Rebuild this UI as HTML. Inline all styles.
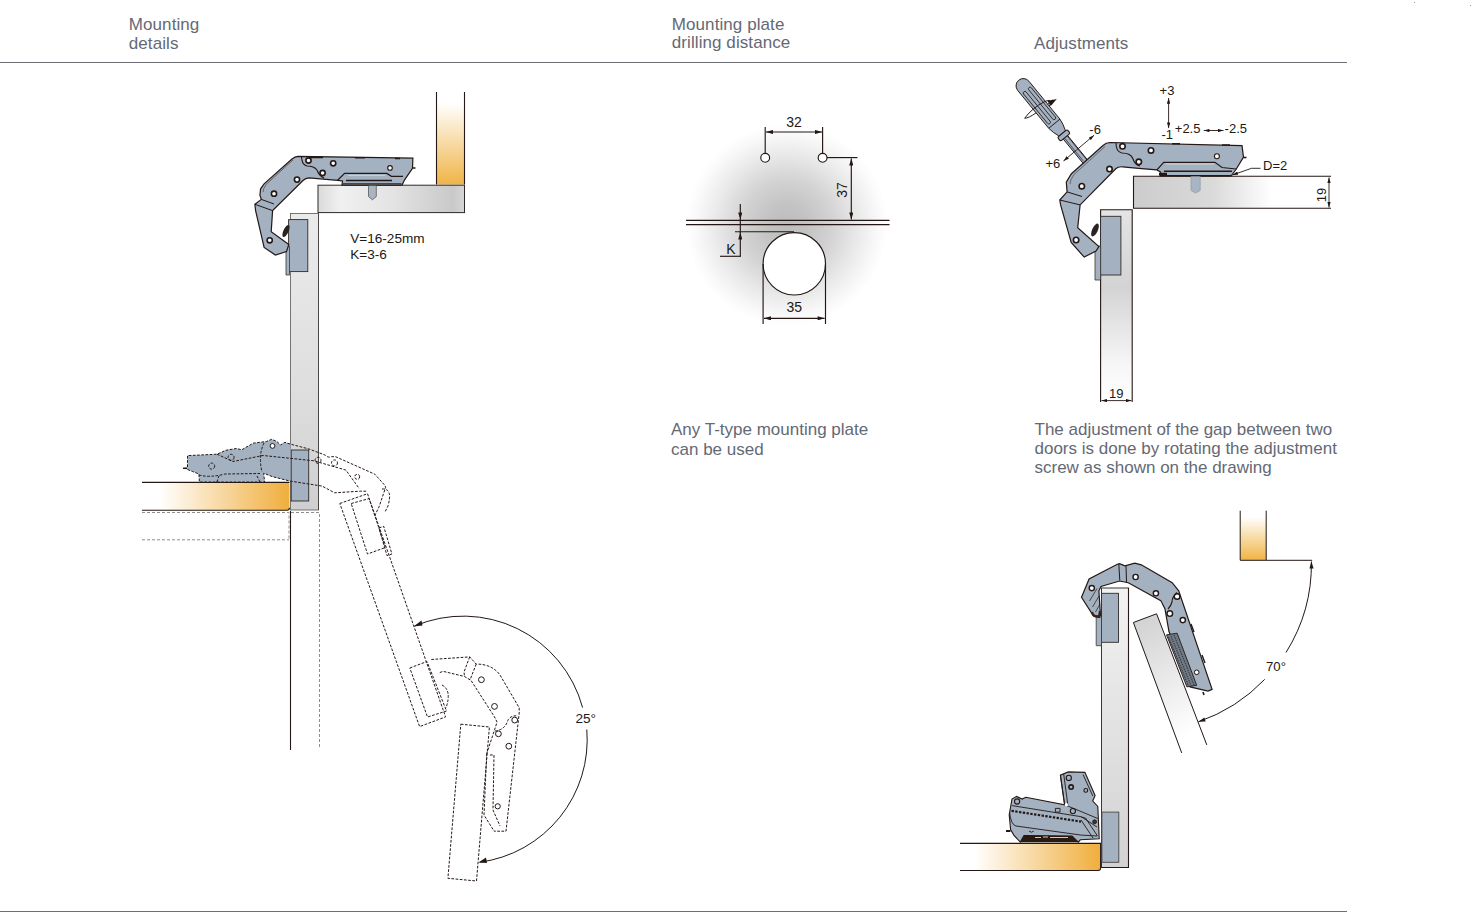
<!DOCTYPE html>
<html><head><meta charset="utf-8">
<style>
html,body{margin:0;padding:0;background:#fff;}
body{width:1475px;height:921px;position:relative;overflow:hidden;font-family:"Liberation Sans",sans-serif;}
svg{position:absolute;left:0;top:0;}
.h{font-size:17px;fill:#646975;letter-spacing:0.08px;}
.b{font-size:17px;fill:#646975;}
</style></head><body>
<svg width="1475" height="921" viewBox="0 0 1475 921" font-family="Liberation Sans, sans-serif">
<defs>
  <marker id="ah" viewBox="0 0 10 6" refX="10" refY="3" markerWidth="8" markerHeight="4.2" markerUnits="userSpaceOnUse" orient="auto-start-reverse"><path d="M0 0 L10 3 L0 6 Z" fill="#231815"/></marker>
  <marker id="ah2" viewBox="0 0 10 6" refX="10" refY="3" markerWidth="6" markerHeight="3.4" markerUnits="userSpaceOnUse" orient="auto-start-reverse"><path d="M0 0 L10 3 L0 6 Z" fill="#231815"/></marker>
  <linearGradient id="orV" x1="0" y1="0" x2="0" y2="1">
    <stop offset="0" stop-color="#fff"/><stop offset="0.12" stop-color="#fff"/>
    <stop offset="1" stop-color="#f0b446"/>
  </linearGradient>
  <linearGradient id="orH" x1="0" y1="0" x2="1" y2="0">
    <stop offset="0" stop-color="#fff"/><stop offset="0.12" stop-color="#fff"/>
    <stop offset="1" stop-color="#f0ae3c"/>
  </linearGradient>
  <linearGradient id="orH2" x1="0" y1="0" x2="1" y2="0">
    <stop offset="0" stop-color="#fff"/><stop offset="0.1" stop-color="#fff"/>
    <stop offset="1" stop-color="#f0ae3c"/>
  </linearGradient>
  <linearGradient id="grH1" x1="0" y1="0" x2="1" y2="0">
    <stop offset="0" stop-color="#dadada"/><stop offset="0.15" stop-color="#f0f0f0"/>
    <stop offset="0.5" stop-color="#e4e4e4"/><stop offset="0.92" stop-color="#c9c9c9"/><stop offset="1" stop-color="#d6d6d6"/>
  </linearGradient>
  <linearGradient id="grH2" x1="0" y1="0" x2="1" y2="0">
    <stop offset="0" stop-color="#cccccc"/><stop offset="0.4" stop-color="#dadada"/>
    <stop offset="0.7" stop-color="#fff"/><stop offset="1" stop-color="#fff"/>
  </linearGradient>
  <linearGradient id="grV1" x1="0" y1="0" x2="0" y2="1">
    <stop offset="0" stop-color="#ebebeb"/><stop offset="0.6" stop-color="#dedede"/><stop offset="1" stop-color="#cfcfcf"/>
  </linearGradient>
  <linearGradient id="grV2" x1="0" y1="0" x2="0" y2="1">
    <stop offset="0" stop-color="#e4e4e4"/><stop offset="0.4" stop-color="#d3d3d3"/><stop offset="0.8" stop-color="#f6f6f6"/><stop offset="1" stop-color="#fff"/>
  </linearGradient>
  <linearGradient id="grV3" x1="0" y1="0" x2="0" y2="1">
    <stop offset="0" stop-color="#f2f2f2"/><stop offset="0.5" stop-color="#e2e2e2"/><stop offset="1" stop-color="#d2d2d2"/>
  </linearGradient>
  <linearGradient id="grD" x1="0" y1="0" x2="0.3" y2="1">
    <stop offset="0" stop-color="#cfcfcf"/><stop offset="1" stop-color="#fff"/>
  </linearGradient>
  <radialGradient id="blob" cx="0.5" cy="0.5" r="0.5">
    <stop offset="0" stop-color="#bdbdbd"/><stop offset="0.2" stop-color="#c3c3c3"/>
    <stop offset="0.45" stop-color="#d3d3d3"/><stop offset="0.7" stop-color="#e9e9e9"/><stop offset="0.9" stop-color="#f9f9f9"/><stop offset="1" stop-color="#fff"/>
  </radialGradient>
</defs>

<!-- header -->
<text class="h" x="128.8" y="30">Mounting</text>
<text class="h" x="128.8" y="48.6">details</text>
<text class="h" x="671.8" y="29.9">Mounting plate</text>
<text class="h" x="671.8" y="48.4">drilling distance</text>
<text class="h" x="1034" y="49">Adjustments</text>
<rect x="0" y="62" width="1347" height="1" fill="#6d6f74"/>
<rect x="0" y="911" width="1347" height="1" fill="#6d6f74"/>
<rect x="1414" y="2" width="1" height="1" fill="#999"/><rect x="1470" y="5" width="1" height="1" fill="#999"/>

<!-- body text -->
<text class="b" x="671" y="434.6">Any T-type mounting plate</text>
<text class="b" x="671" y="454.5">can be used</text>
<text class="b" x="1034.5" y="434.6">The adjustment of the gap between two</text>
<text class="b" x="1034.5" y="453.8">doors is done by rotating the adjustment</text>
<text class="b" x="1034.5" y="473.4">screw as shown on the drawing</text>
<!-- ================= LEFT DRAWING ================= -->
<g id="left">
  <!-- top orange panel -->
  <rect x="436.5" y="92" width="28" height="92.5" fill="url(#orV)"/>
  <path d="M436.5 92V184.5M464.5 92V184.5" stroke="#231815" stroke-width="1.1" fill="none"/>
  <!-- carcass horizontal panel -->
  <rect x="318" y="185.2" width="146.5" height="27.4" fill="url(#grH1)" stroke="#2e2a28" stroke-width="1"/>
  <!-- door panel -->
  <rect x="290.5" y="213.5" width="28" height="296.5" fill="url(#grV1)" stroke="#6a6663" stroke-width="0.9"/>
  <path d="M318.5 213.5V510" stroke="#4a4644" stroke-width="1"/>
  <!-- door mounting plate -->
  <rect x="288.6" y="219.6" width="19.2" height="52" fill="#a3b1c1" stroke="#2e2a28" stroke-width="0.9"/>
  <path d="M286 246.5h3.5v28.5h-3.5z" fill="#a3b1c1" stroke="#3a3634" stroke-width="0.8"/>
  <ellipse cx="286" cy="231" rx="2.6" ry="6.5" transform="rotate(25 286 231)" fill="#2a2420"/>
  <!-- hinge arm -->
  <path d="M298 156.3 L412.9 158.2 L412.5 168.4 L404.6 179.8 L402 185.1 L342 185.1 L342.5 181 L337.6 180.3 L309 177.8 Q305.5 178 303 180.5 L272.6 210.6 L271.2 231.8 L288.8 244.5 L286.5 251.6 L275.4 255.1 L264.1 247.4 L255.6 210.7 L254.9 204.3 L261.3 199.4 L259.9 195.1 L260.6 188.8 L264.1 183.9 L292 159 Q295 156.5 298 156.3 Z" fill="#a3b1c1" stroke="#231815" stroke-width="1.2"/>
  <path d="M293 160 L266 184.5 Q263 189 263 192" stroke="#3a3634" stroke-width="0.6" fill="none"/>
  <path d="M254.9 204.3 L272.6 210.6 M261.3 199.4 L274 204" stroke="#231815" stroke-width="1" fill="none"/>
  <path d="M301.5 157 Q302 165 307 166 Q314 166 317 170 Q319 176 324 178" stroke="#231815" stroke-width="1.1" fill="none"/>
  <path d="M337.6 180.3 L344.6 173.4 H386.9 L391.4 176.3 H403" stroke="#231815" stroke-width="1.2" fill="none"/>
  <path d="M346 180.4 H392" stroke="#231815" stroke-width="1.5"/>
  <path d="M343 183.8 H401.5" stroke="#231815" stroke-width="1"/>
  <path d="M348 175.5 H385" stroke="#fff" stroke-width="0.8" opacity="0.5"/>
  <path d="M309 157.5h14M355 157.8h10M395 158.5h5" stroke="#231815" stroke-width="1.6"/>
  <path d="M413 168 h2.5" stroke="#231815" stroke-width="1.5"/>
  <!-- pin -->
  <path d="M368.5 185.5 V196.5 L372.4 199.8 L376.3 196.5 V185.5 Z" fill="#a9b5c3" stroke="#4a4644" stroke-width="0.7"/>
  <!-- holes -->
  <g fill="#fff" stroke="#231815" stroke-width="1.6">
    <circle cx="308.5" cy="160.5" r="2.6"/><circle cx="333.2" cy="163.3" r="2.6"/>
    <circle cx="322.6" cy="173" r="2.6"/>
    <circle cx="297" cy="179.6" r="2.6"/><circle cx="274" cy="193.7" r="2.6"/>
    <circle cx="269.7" cy="240.3" r="2.6"/>
  </g>
  <circle cx="390" cy="167.9" r="2.3" fill="#fff" stroke="#231815" stroke-width="1.1"/>
  <text x="350.2" y="243.3" style="font-size:13.6px;fill:#231815">V=16-25mm</text>
  <text x="350.2" y="259" style="font-size:13.6px;fill:#231815">K=3-6</text>

  <!-- bottom orange panel -->
  <path d="M142 482.4 H287.5 Q289.5 482.4 289.5 484.5 V507.8 Q289.5 510.2 287 510.2 H142 Z" fill="url(#orH)"/>
  <path d="M142 482.4 H289.5 M142 510.2 H287 Q289.5 510.2 289.5 507.8" stroke="#231815" stroke-width="1.1" fill="none"/>
  <!-- mounting plate on door (bottom) -->
  <rect x="291.2" y="450" width="17.5" height="51" fill="#a3b1c1" stroke="#2e2a28" stroke-width="0.9"/>
  <!-- base hinge body -->
  <path d="M183.1 468.3 L187.5 467 L187.5 455.6 L217 454.2 L225.8 450.3 L236.4 448.5 L241.7 449.8 L253.2 443.2 L266.4 441.5 L271.7 439.3 L276.9 441.5 L280.5 445 L284.9 442.3 L290.6 444.1 L290.6 481.2 L272.5 476.7 L263.7 473.2 L264.6 482 L199.4 482 L198.9 474 L192.3 471.4 L187.5 469.5 Z" fill="#a3b1c1"/>
  <g stroke="#231815" stroke-width="1" fill="none" stroke-dasharray="2.7 1.5">
    <path d="M187.5 467 L187.5 455.6 L217 454.2 L225.8 450.3 L236.4 448.5 L241.7 449.8 L253.2 443.2 L266.4 441.5 L271.7 439.3 L276.9 441.5 L280.5 445 L284.9 442.3 L290.2 444.1 L308.7 448.9 L325.2 455.1 Q328 458 331.4 456.7 L335.6 456.7 L374.8 474.2 L385.1 485.6 L385.6 487.6 L378.9 507.2 L374.8 515.5"/>
    <path d="M217 454.2 L233 461.5 L263 455.5 L313.9 460.8 L345.9 470.1 L359.3 488.7"/>
    <path d="M187.5 469.5 L192.3 471.4 L198.9 474 L199.4 482 L264.6 482 L263.7 473.2 L272.5 476.7 L290.2 481.1 L322.2 486.1 L334.5 492.8 L360.3 491.2 L366.5 491.2"/>
    <path d="M199 475 Q210 478 225 474 L260 473.5 M216.8 482 L219 476 M260 482 L257 476"/>
    <path d="M264 443 Q258 455 262 472"/>
    <circle cx="231.1" cy="457.3" r="3"/><circle cx="211.7" cy="466.1" r="3"/>
    <circle cx="318" cy="460.3" r="3"/><circle cx="334.5" cy="462.9" r="3"/><circle cx="357.2" cy="476.8" r="2.5"/>
  </g>
  <circle cx="272.5" cy="445.9" r="2.4" fill="#fff" stroke="#231815" stroke-width="1"/>
  <path d="M183 468.3 h4" stroke="#231815" stroke-width="1.5"/>

  <!-- cabinet dashed lines below -->
  <g stroke="#8e8e8e" stroke-width="1" fill="none" stroke-dasharray="3 2">
    <path d="M142 512.5 H289 V540 M142 539.8 H289 M291 512.5 H319.5 V749"/>
  </g>
  <path d="M290.5 511 V750" stroke="#231815" stroke-width="1.1"/>

  <!-- open door dashed -->
  <g stroke="#231815" stroke-width="1" fill="none" stroke-dasharray="2.7 1.5">
    <path d="M339.8 503.5 L367.5 493.7 L445.6 716.9 L419.6 726.6 Z"/>
    <path d="M351.2 503.5 L369.1 498.6 L385.4 547.5 L367.5 554 Z"/>
    <path d="M378.9 528 L383.7 526.3 L391.9 554 L387 555.6 Z"/>
    <path d="M409.8 668 L427 661.5 L446.5 711 L427.5 717 Z"/>
    <path d="M431.3 659.5 L469.7 656.9 L476.2 664.1 Q491.9 664 500 675 L519.2 707.8 L519.2 713 L506 831.2 L494 831.2"/>
    <path d="M439.8 672.6 L443 671.3 L464.5 676.5 L471 680.4 L494.5 716.9 L497.1 722.1 L486.7 753.7"/>
    <path d="M469.7 656.9 L464 672 L464.5 676.5 M476.2 664.1 L470 680"/>
    <path d="M495 731 Q505 730 508 720 Q511 715 518 716"/>
    <path d="M460.8 724.2 L489.4 727 L476.5 881 L447.9 878.3 Z"/>
    <path d="M490 755 L494 755 L493 810 L500 826 M486.7 753.7 L484 815 L494 831"/>
    <path d="M382 489 Q393 488 388 506 L385 512"/>
    <path d="M442 685 Q452 690 446 708"/>
  </g>
  <g stroke="#231815" stroke-width="1" fill="none">
    <circle cx="481.4" cy="679.7" r="2.9"/><circle cx="494.5" cy="706.4" r="2.9"/>
    <circle cx="514.7" cy="720.1" r="2.9"/><circle cx="498.4" cy="733.8" r="2.9"/>
    <circle cx="508.8" cy="746.2" r="2.9"/><circle cx="497.7" cy="806.3" r="2.6"/>
  </g>
  <!-- 25 deg arc -->
  <path d="M414.7 626 A123.7 123.7 0 0 1 582.6 707.6 M586.8 729.5 A123.7 123.7 0 0 1 479.8 862.2" stroke="#231815" stroke-width="1" fill="none"/>
  <path d="M413.5 626.5 L421.5 620.5 L422.5 625.5 Z" fill="#231815"/>
  <path d="M478.5 862.5 L486 857.5 L487 863 Z" fill="#231815"/>
  <text x="575.5" y="722.8" style="font-size:13.6px;fill:#231815">25°</text>
</g>

<!-- ================= MIDDLE DRAWING ================= -->
<g id="mid">
  <circle cx="787" cy="225" r="101" fill="url(#blob)"/>
  <g stroke="#231815" stroke-width="1.15" fill="none">
    <circle cx="765.2" cy="157.8" r="4.4" fill="#fff"/>
    <circle cx="822.6" cy="157.8" r="4.4" fill="#fff"/>
    <path d="M765.2 127 V153.4 M822.6 127 V153.4"/>
    <path d="M766 132 H822" marker-start="url(#ah)" marker-end="url(#ah)"/>
    <path d="M827 157.6 H857.5"/>
    <path d="M851.3 158.5 V219.5" marker-start="url(#ah)" marker-end="url(#ah)"/>
    <path d="M686 220.3 H889.5 M686 224.6 H889.5"/>
    <circle cx="794.3" cy="263.8" r="31.2" fill="#fff"/>
    <path d="M735 231.7 H794"/>
    <path d="M740.3 204 V219.5" marker-end="url(#ah)"/>
    <path d="M740.3 256.5 V232.5" marker-end="url(#ah)"/>
    <path d="M740.3 219 V233"/>
    <path d="M720 256.3 H740.8"/>
    <path d="M763.1 264 V324 M825.5 264 V324"/>
    <path d="M764 318.3 H824.6" marker-start="url(#ah)" marker-end="url(#ah)"/>
  </g>
  <g style="font-size:14px;fill:#231815" text-anchor="middle">
    <text x="794" y="126.9">32</text>
    <text x="794.3" y="312.3">35</text>
    <text x="731" y="254">K</text>
    <text transform="translate(847 190) rotate(-90)">37</text>
  </g>
</g>

<!-- ================= RIGHT DRAWINGS ================= -->
<g id="right">
  <!-- carcass -->
  <rect x="1133.5" y="176.3" width="198" height="32" fill="url(#grH2)"/>
  <path d="M1331 176.3 H1133.5 V208.3 H1331" stroke="#231815" stroke-width="1.1" fill="none"/>
  <path d="M1100.6 402 V209.8 H1132.2 V402" fill="url(#grV2)" stroke="#231815" stroke-width="1.1"/>
  <!-- dims 19 -->
  <g stroke="#231815" stroke-width="0.9" fill="none">
    <path d="M1329 177.5 V207.5" marker-start="url(#ah2)" marker-end="url(#ah2)"/>
    <path d="M1101.5 400.6 H1131.5" marker-start="url(#ah2)" marker-end="url(#ah2)"/>
  </g>
  <g style="font-size:13px;fill:#231815" text-anchor="middle">
    <text x="1116.3" y="398">19</text>
    <text transform="translate(1326.4 195) rotate(-90)">19</text>
  </g>
  <!-- door mounting plate -->
  <rect x="1100.6" y="216.3" width="20.3" height="58.7" fill="#a3b1c1" stroke="#2e2a28" stroke-width="0.9"/>
  <path d="M1095 246 h5.6 v34 h-5.6 z" fill="#a3b1c1" stroke="#3a3634" stroke-width="0.8"/>
  <ellipse cx="1095" cy="230" rx="2.8" ry="7" transform="rotate(25 1095 230)" fill="#2a2420"/>
  <!-- screwdriver -->
  <g transform="translate(1023.3 85.8) rotate(50.7)" stroke="#231815" stroke-width="0.9">
    <path d="M66 -2.8 H104 V2.8 H66 Z" fill="#a3b1c1"/>
    <path d="M56 -2.2 H100 M56 1.2 H96" stroke-width="0.6" fill="none"/>
    <path d="M0 -7.25 H49 Q56 -6.5 60 -4.6 H62.5 V4.6 H60 Q56 6.5 49 7.25 H0 A7.25 7.25 0 0 1 0 -7.25 Z" fill="#a3b1c1"/>
    <path d="M49 -7.25 V7.25" fill="none"/>
    <rect x="61.5" y="-6.3" width="5" height="12.6" rx="1.8" fill="#a3b1c1" stroke-width="1.1"/>
    <rect x="5" y="-5" width="41" height="3.3" rx="1.6" fill="none" stroke-width="0.8"/>
    <rect x="5" y="1.7" width="41" height="3.3" rx="1.6" fill="none" stroke-width="0.8"/>
    <path d="M32 -7.25 A4.5 17 0 0 0 26 19.5 A4.5 17 0 0 0 29 7.25" fill="none" stroke-width="0.9"/>
    <path d="M30 -7.25 L29 -13.5" fill="none" stroke-width="0.9"/>
    <path d="M27 -9 L31.5 -17.5 L33 -8.5 Z" fill="#231815" stroke="none"/>
  </g>
  <path d="M1063.5 161 L1094.1 135.2" stroke="#231815" stroke-width="0.9" fill="none" marker-start="url(#ah2)" marker-end="url(#ah2)"/>
  <!-- hinge arm -->
  <path d="M1110 142.5 L1242 145.7 L1243.5 157.1 L1236 169.5 L1231 176 L1160 176 L1160.5 172 L1156.9 169.9 L1138.7 168.4 L1122.7 166.8 Q1118 166.5 1116 168.5 L1080.1 204.9 L1077.7 227.8 L1098.9 246.5 L1096 251 L1084.2 257.1 L1071.2 242.4 L1060.6 204.9 L1059.8 200 L1067.1 191.9 L1066.3 182.1 L1071.2 174 L1103 145.5 Q1106 142.6 1110 142.5 Z" fill="#a3b1c1" stroke="#231815" stroke-width="1.2"/>
  <path d="M1105 146.5 L1074 174.5 Q1070 180 1070 184" stroke="#3a3634" stroke-width="0.6" fill="none"/>
  <path d="M1059.8 200 L1080.1 204.9 M1067.1 191.9 L1082 196.5" stroke="#231815" stroke-width="1" fill="none"/>
  <path d="M1116 143 Q1116 152 1122 153 Q1131 153 1133 159 Q1135 165 1140 166" stroke="#231815" stroke-width="1.1" fill="none"/>
  <path d="M1156.9 169.9 L1163.7 162.3 H1215 L1222 167.5 L1236 169" stroke="#231815" stroke-width="1.2" fill="none"/>
  <path d="M1166 164 H1214" stroke="#fff" stroke-width="0.8" opacity="0.6"/>
  <path d="M1164 171.3 H1232" stroke="#231815" stroke-width="1.6"/>
  <path d="M1160 175.6 H1231" stroke="#231815" stroke-width="1.1"/>
  <path d="M1159 174 h8" stroke="#231815" stroke-width="2.5"/>
  <path d="M1172 143.8 h8 M1222 144.9 h8" stroke="#231815" stroke-width="1.5"/>
  <path d="M1243.5 157.5 h3" stroke="#231815" stroke-width="1.6"/>
  <path d="M1191 176.5 V190.5 L1195.6 193 L1200.2 190.5 V176.5 Z" fill="#a9b5c3" stroke="#8a949e" stroke-width="0.6"/>
  <g fill="#fff" stroke="#231815" stroke-width="1.6">
    <circle cx="1122.5" cy="146.3" r="2.7"/><circle cx="1151" cy="150.4" r="2.7"/>
    <circle cx="1138.8" cy="161.8" r="2.7"/><circle cx="1109.5" cy="169.1" r="2.7"/>
    <circle cx="1081.8" cy="186.2" r="2.7"/><circle cx="1076.1" cy="240" r="2.7"/>
  </g>
  <circle cx="1216.9" cy="156.3" r="2.5" fill="#fff" stroke="#231815" stroke-width="1.1"/>
  <!-- adj labels -->
  <g style="font-size:13px;fill:#231815">
    <text x="1159.6" y="94.6">+3</text>
    <text x="1161.5" y="138.6">-1</text>
    <text x="1174.8" y="132.5">+2.5</text>
    <text x="1224.6" y="132.5">-2.5</text>
    <text x="1263" y="169.9">D=2</text>
    <text x="1089.3" y="133.9">-6</text>
    <text x="1045.4" y="167.5">+6</text>
  </g>
  <g stroke="#231815" stroke-width="0.9" fill="none">
    <path d="M1168.6 98 V128.1" marker-start="url(#ah2)" marker-end="url(#ah2)"/>
    <path d="M1203.8 130.5 H1223.5" marker-start="url(#ah2)" marker-end="url(#ah2)"/>
    <path d="M1260.5 168.3 H1251.5 L1232.4 175" marker-end="url(#ah2)"/>
  </g>

  <!-- ======== bottom right ======== -->
  <rect x="1240.2" y="510.7" width="26" height="49.5" fill="url(#orV)"/>
  <path d="M1240.2 510.7V560.2M1266.2 510.7V560.2M1240.2 560.3H1312.2" stroke="#231815" stroke-width="1" fill="none"/>
  <path d="M1311.4 561.5 A166.6 166.6 0 0 1 1286 652.5 M1264.7 679.4 A166.6 166.6 0 0 1 1198.4 721.8" stroke="#231815" stroke-width="1" fill="none" marker-start="url(#ah)" marker-end="url(#ah)"/>
  <text x="1266" y="670.6" style="font-size:13.2px;fill:#231815">70°</text>
  <!-- open door -->
  <path d="M1206.8 744.9 L1156.6 613.8 L1133.4 622.5 L1181.7 752.9" fill="url(#grD)" stroke="#231815" stroke-width="1"/>
  <!-- door panel -->
  <rect x="1101.5" y="588" width="27" height="279.5" fill="url(#grV3)" stroke="#3a3634" stroke-width="1"/>
  <path d="M1128.5 588 V867.5 H1101.5" stroke="#231815" stroke-width="1.1" fill="none"/>
  <rect x="1101.5" y="593.3" width="17" height="49" fill="#a3b1c1" stroke="#2e2a28" stroke-width="0.9"/>
  <path d="M1096.2 617.2 h5.3 v28.5 h-5.3 z" fill="#a3b1c1" stroke="#3a3634" stroke-width="0.8"/>
  <!-- open hinge -->
  <path d="M1081.5 597.3 L1089.1 578.9 L1117.3 564.2 L1119.5 563.7 L1124.9 565.9 L1134.8 563.1 L1141.3 564.8 L1172.2 582.7 L1178.7 590.8 L1212.1 689.4 L1208.1 691 L1190.1 686.9 L1169 631.5 L1164.9 608.7 L1160.8 600.6 L1128.3 582.7 L1119.5 581 L1101 586.5 L1098.9 590.8 L1100.5 615.8 L1093.4 615.8 Z" fill="#a3b1c1" stroke="#231815" stroke-width="1.2"/>
  <path d="M1118.8 564 L1119.8 580.5 M1126 566 L1126.5 582" stroke="#231815" stroke-width="1" fill="none"/>
  <path d="M1089.5 601 L1097 588.5 M1092.5 607 L1099 596 M1095.5 612 L1100 604" stroke="#231815" stroke-width="0.7" fill="none"/>
  <path d="M1092 612 Q1093 617 1099 617 L1100 611" stroke="#3a2418" stroke-width="2.2" fill="none"/>
  <path d="M1177 592.5 Q1172 597 1172 602 Q1171 606 1168 609" stroke="#231815" stroke-width="1.1" fill="none"/>
  <path d="M1166.5 634.8 L1177.1 633.2 L1196.7 685.3 L1186.9 686.9 Z" fill="#6f7a86" stroke="#231815" stroke-width="0.9"/>
  <path d="M1168.5 637 L1188.5 686 M1171 636 L1191 685.5 M1174 635 L1194 685" stroke="#2a2622" stroke-width="0.9" stroke-dasharray="1.5 1" fill="none"/>
  <path d="M1203 692 l1 3" stroke="#231815" stroke-width="1.6"/>
  <path d="M1191 624 l3 8 M1202 655 l3 8" stroke="#231815" stroke-width="1.4"/>
  <g fill="#fff" stroke="#231815" stroke-width="1.4">
    <circle cx="1091.8" cy="588.1" r="2.6"/><circle cx="1135.6" cy="577" r="2.6"/>
    <circle cx="1155.9" cy="593.3" r="2.6"/><circle cx="1177.1" cy="596.5" r="2.8"/>
    <circle cx="1169.8" cy="613.6" r="2.8"/><circle cx="1182.8" cy="620.1" r="2.6"/>
  </g>
  <circle cx="1196.7" cy="672.3" r="2.3" fill="#fff" stroke="#231815" stroke-width="1"/>
  <!-- bottom orange -->
  <path d="M960 843.4 H1100.6 V868 Q1100.6 870.5 1098 870.5 H960 Z" fill="url(#orH2)"/>
  <path d="M960 843.4 H1100.6 V868 Q1100.6 870.5 1098 870.5 H960" stroke="#231815" stroke-width="1.1" fill="none"/>
  <rect x="1101.9" y="812.1" width="16.9" height="50.2" fill="#a3b1c1" stroke="#4a4644" stroke-width="0.9"/>
  <!-- base hinge -->
  <path d="M1020.3 842.3 L1024 835 L1068 833.3 L1072 836 L1078.4 842.3 Z" fill="#2a1a10"/>
  <path d="M1010.6 829.6 L1009.2 814.8 L1012 799.1 L1016.6 796.4 L1022.1 799.1 L1025.8 797.3 L1064.6 804.7 L1060.4 775.2 L1068.3 771.9 L1084.9 772.4 L1095.1 795.5 L1092.7 801 L1097.8 806.5 L1099.2 838.8 L1080.3 839.8 L1078.4 842.1 L1072 836 L1024 835.5 L1020.3 842.1 L1013.8 835.1 Z" fill="#a3b1c0" stroke="#231815" stroke-width="1.1"/>
  <path d="M1006 831 h4.5" stroke="#231815" stroke-width="2"/>
  <g stroke="#231815" stroke-width="0.9" fill="none">
    <path d="M1012 805.6 L1081.2 816.7 L1097 827"/>
    <path d="M1064.6 804.7 L1097.8 818.5"/>
    <path d="M1009.5 812 Q1011 825 1016 826 L1081.2 835.1 L1097 836"/>
    <path d="M1081.2 817 L1085.5 818 L1097.5 836 M1081 820 L1093 838"/>
    <path d="M1060.4 775.2 L1064.6 804.7 M1063.7 774 L1067.8 804.5"/>
    <path d="M1055.4 808.4 h4.6 v3.7 h-4.6 z"/>
    <path d="M1029 831 q2.4 2.5 4.8 0"/>
    <path d="M1083 774.5 L1092.8 796"/>
  </g>
  <path d="M1011.5 810.8 L1081 821.6" stroke="#231815" stroke-width="2.2" stroke-dasharray="2.4 1.4" fill="none"/>
  <path d="M1035 837.5 h6 M1043 837 h5 M1050 837.5 h18" stroke="#c8ccd0" stroke-width="1" fill="none"/>
  <circle cx="1066.4" cy="804.7" r="1.6" fill="#fff"/>
  <g fill="none" stroke="#231815" stroke-width="1.1">
    <circle cx="1017.1" cy="801.5" r="2.6"/><circle cx="1068.8" cy="777.9" r="2.6"/>
    <circle cx="1085.8" cy="790.4" r="1.9"/><circle cx="1072.9" cy="811.1" r="2.6"/>
  </g>
  <circle cx="1071.1" cy="787.1" r="2.2" fill="#a3b1c1" stroke="#231815" stroke-width="1.6"/>
  <circle cx="1094.6" cy="821.8" r="2" fill="#3a3634" stroke="#231815" stroke-width="0.8"/>
</g>

</svg>
</body></html>
